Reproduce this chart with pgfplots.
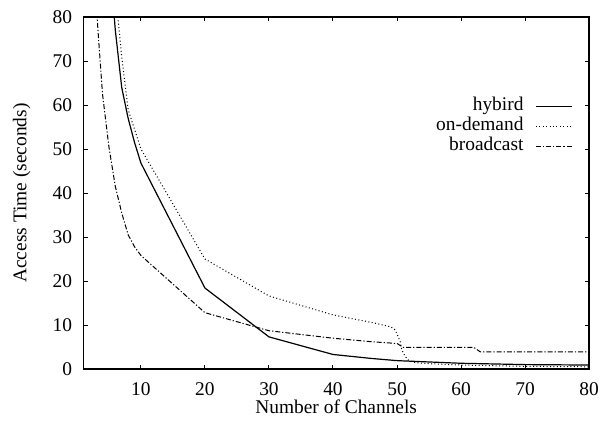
\documentclass[border=0pt]{standalone}
\usepackage{fontspec}
\setmainfont{Liberation Serif}
\usepackage{pgfplots}
\pgfplotsset{compat=1.18}
\begin{document}
\fontsize{9.7}{11.6}\selectfont
\begin{tikzpicture}
\begin{axis}[
  scale only axis, width=252.9pt, height=176pt,
  xmin=1, xmax=80, ymin=0, ymax=80,
  xtick={10,20,...,80}, ytick={0,10,...,80},
  tick align=inside, major tick length=2.2pt,
  tick style={black, line width=0.5pt},
  axis line style={line width=0.6pt},
  /pgf/number format/assume math mode=true,
  xticklabel style={yshift=-3.5pt}, yticklabel style={xshift=-2.2pt},
  xlabel={Number of Channels}, ylabel={Access Time (seconds)},
  xlabel style={at={(axis description cs:0.5,0)}, anchor=base, yshift=-22.2pt},
  ylabel style={at={(axis description cs:-0.1218,0.5)}, anchor=center},
  legend plot pos=right, legend cell align=right,
  legend image code/.code={\draw[#1] (0pt,0pt) -- (18pt,0pt);},
  legend style={draw=none, fill=none, at={(axis description cs:1,1)}, anchor=north east,
    xshift=-8pt, yshift=-39.5pt, inner sep=0pt, row sep=0pt, column sep=6pt,
    nodes={inner sep=0pt, text height=6.8pt, text depth=3.2pt},
    font=\fontsize{9.7}{11.6}\selectfont},
]
\addplot[black, line width=0.6pt] coordinates {
(5,95) (6,77) (7,64) (8,57) (9,51.5) (10,46.8) (20,18.4) (30,7.3) (40,3.3) (46,2.4) (50,1.9) (60,1.3) (70,1.0) (80,0.9)
};
\addlegendentry{hybird}
\addplot[black, line width=0.5pt, dash pattern=on 0.5pt off 1.2pt] coordinates {
(5,100) (6,86) (7,71) (8,59) (9,54.5) (10,50) (20,25) (30,16.6) (40,12.3) (46,10.6) (49,9.6) (49.7,8.9) (50.2,7.3) (50.5,6.2) (50.75,4.3) (51.3,2.8) (51.8,2.0) (52.6,1.5) (55,1.2) (60,0.9) (70,0.6) (80,0.5)
};
\addlegendentry{on-demand}
\addplot[black, line width=0.5pt, dash pattern=on 2.5pt off 1pt on 0.6pt off 1pt] coordinates {
(2,125) (3,83) (4,62.5) (5,50.5) (6,41.5) (7,35.5) (8,30.5) (9,27.8) (10,25.8) (20,12.8) (30,8.7) (40,7.0) (46,6.2) (50,5.8) (51,4.9) (62,4.9) (63,3.9) (80,3.9)
};
\addlegendentry{broadcast}
\end{axis}
\path ([xshift=-41.65pt,yshift=-25pt]current axis.south west) rectangle ++(304pt,209.5pt);
\end{tikzpicture}
\end{document}
